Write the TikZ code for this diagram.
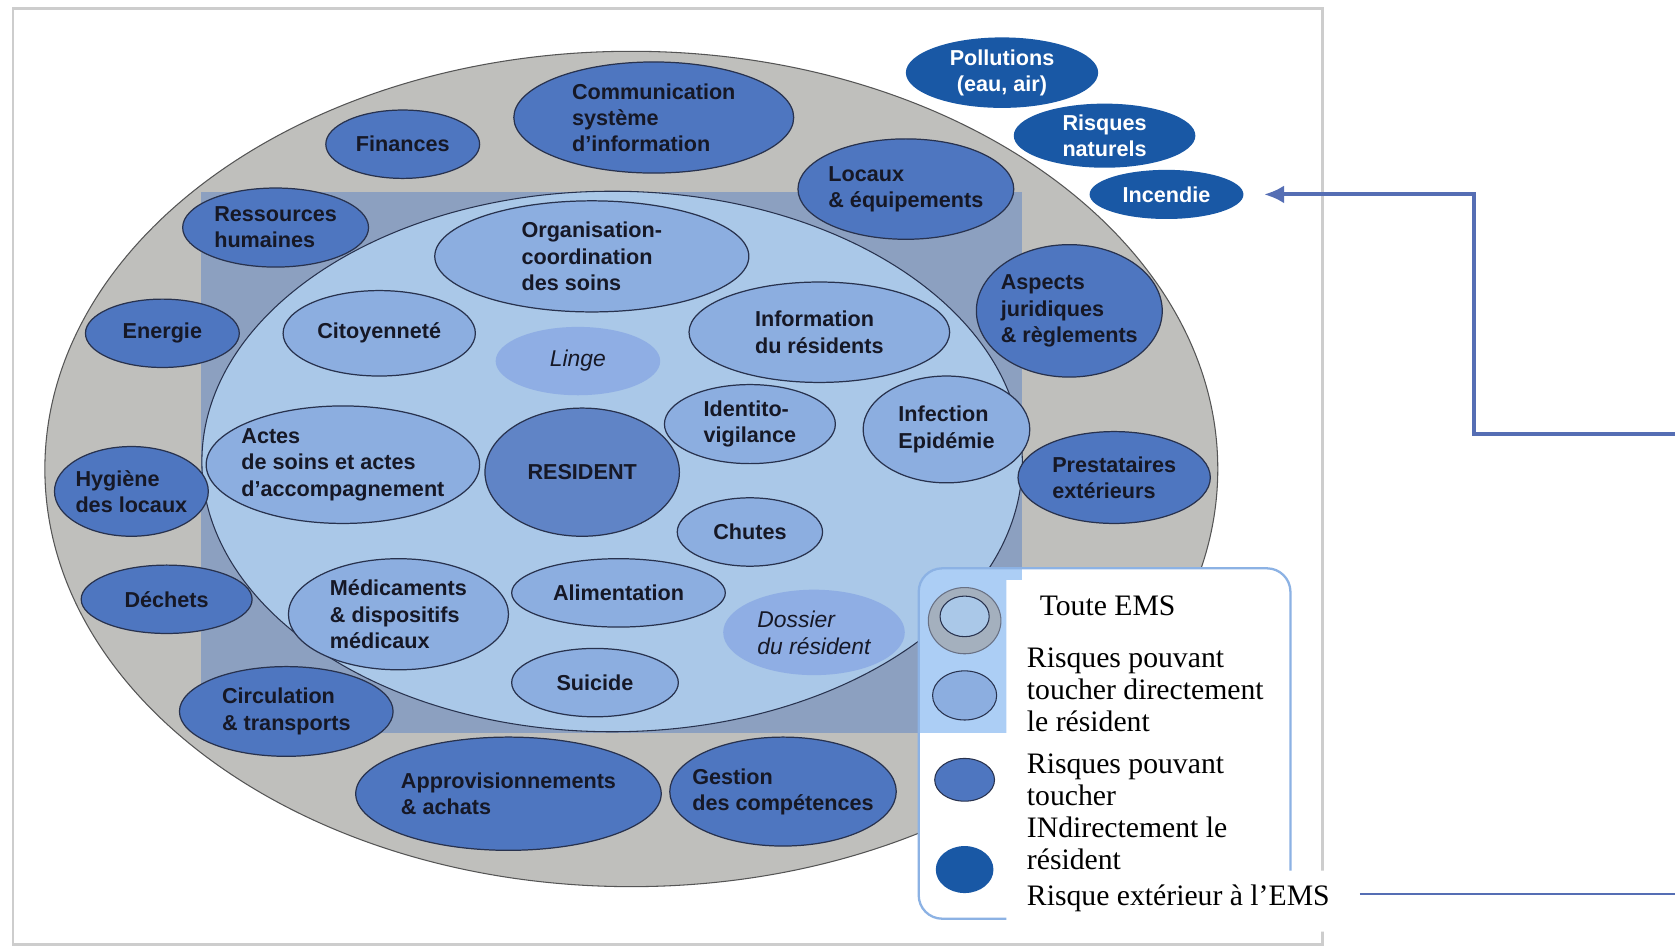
\documentclass[tikz,border=0pt]{standalone}
\usepackage{fontspec}
\setmainfont{Liberation Serif}
\setsansfont{Liberation Sans}
\usetikzlibrary{shapes.geometric,arrows.meta}

\definecolor{ringgray}{RGB}{191,191,188}
\definecolor{ringedge}{RGB}{85,85,85}
\definecolor{rectblue}{RGB}{140,160,192}
\definecolor{innerblue}{RGB}{170,200,232}
\definecolor{keyblue}{RGB}{172,206,245}
\definecolor{lightell}{RGB}{140,174,224}
\definecolor{softell}{RGB}{143,174,228}
\definecolor{midell}{RGB}{78,118,192}
\definecolor{darkell}{RGB}{25,88,165}
\definecolor{edgecol}{RGB}{40,50,78}
\definecolor{inktext}{RGB}{22,24,38}
\definecolor{keyframe}{RGB}{140,178,228}
\definecolor{framegray}{RGB}{205,205,205}
\definecolor{linkblue}{RGB}{85,110,180}

\newcommand{\pxu}{0.02136cm}

\begin{document}
\begin{tikzpicture}[x=\pxu,y=-\pxu]
  \tikzset{sz/.style 2 args={minimum width=2*#1*\pxu,minimum height=2*#2*\pxu}}
  \tikzstyle{zone}=[ellipse,inner sep=0pt,line width=0.6pt]
  \tikzstyle{risk}=[ellipse,draw=edgecol,line width=0.7pt,inner sep=-1cm,text=inktext,align=left,
    font=\sffamily\bfseries\fontsize{12.3}{14.9}\selectfont]
  \tikzstyle{inrisk}=[risk,fill=lightell]
  \tikzstyle{outrisk}=[risk,fill=midell]
  \tikzstyle{extrisk}=[risk,fill=darkell,draw=none,text=white,align=center]
  \tikzstyle{soft}=[risk,fill=softell,draw=none,font=\sffamily\itshape\fontsize{13}{15.4}\selectfont]
  \tikzstyle{keytext}=[anchor=west,inner sep=0pt,align=left,text=black,font=\fontsize{16.9}{18.2}\selectfont]
  \tikzstyle{link}=[draw=linkblue,line width=2.3pt]

  \fill[white] (0,0) rectangle (1568,885);
  \useasboundingbox (0,0) rectangle (1568,885);
  \draw[framegray,line width=1.4pt] (12,8) rectangle (1238,884);

  % EMS and resident zones
  \node[zone,sz={549}{391},fill=ringgray,draw=ringedge] (ems) at (591,439) {};
  \fill[rectblue] (188,180) rectangle (957,686);
  \node[zone,sz={384}{253},fill=innerblue,draw=edgecol] (proche) at (573,432) {};

  % legend box
  \fill[white,rounded corners=0.47cm] (860,532) rectangle (1208,860);
  \begin{scope}
    \clip[rounded corners=0.47cm] (860,532) rectangle (1208,860);
    \fill[keyblue] (860,532) rectangle (957,686);
  \end{scope}
  \draw[keyframe,line width=1.3pt,rounded corners=0.47cm] (860,532) rectangle (1208,860);

  % risks touching the resident
  \node[inrisk,sz={147}{52}] (organisation) at (554,240) {Organisation-\\coordination\\des soins};
  \node[inrisk,sz={90}{40}] (citoyennete) at (355,312) {Citoyenneté};
  \node[soft,sz={77}{32}] (linge) at (541,338) {Linge};
  \node[inrisk,sz={122}{47}] (information) at (767,311) {Information\\du résidents};
  \node[inrisk,sz={80}{37}] (identito) at (702,397) {Identito-\\vigilance};
  \node[inrisk,sz={78}{50}] (infection) at (886,402) {Infection\\Epidémie};
  \node[inrisk,sz={128}{55}] (actes) at (321,435) {Actes\\de soins et actes\\d’accompagnement};
  \node[outrisk,sz={91}{60},fill=midell!90!white] (resident) at (545,442) {RESIDENT};
  \node[inrisk,sz={68}{32}] (chutes) at (702,498) {Chutes};
  \node[inrisk,sz={100}{32}] (alimentation) at (579,555) {Alimentation};
  \node[inrisk,sz={103}{52}] (medicaments) at (373,575) {Médicaments\\\& dispositifs\\médicaux};
  \node[soft,sz={85}{40}] (dossier) at (762,592) {Dossier\\du résident};
  \node[inrisk,sz={78}{32}] (suicide) at (557,639) {Suicide};

  % risks touching the resident indirectly
  \node[outrisk,sz={72}{32}] (finances) at (377,135) {Finances};
  \node[outrisk,sz={131}{52}] (communication) at (612,110) {Communication\\système\\d’information};
  \node[outrisk,sz={101}{47}] (locaux) at (848,177) {Locaux\\\& équipements};
  \node[outrisk,sz={87}{37}] (rh) at (258,213) {Ressources\\humaines};
  \node[outrisk,sz={72}{32}] (energie) at (152,312) {Energie};
  \node[outrisk,sz={87}{62}] (juridique) at (1001,291) {Aspects\\juridiques\\\& règlements};
  \node[outrisk,sz={72}{42}] (hygiene) at (123,460) {Hygiène\\des locaux};
  \node[outrisk,sz={90}{43}] (prestataires) at (1043,447) {Prestataires\\extérieurs};
  \node[outrisk,sz={80}{32}] (dechets) at (156,561) {Déchets};
  \node[outrisk,sz={100}{42}] (circulation) at (268,666) {Circulation\\\& transports};
  \node[outrisk,sz={143}{53}] (appro) at (476,743) {Approvisionnements\\\& achats};
  \node[outrisk,sz={106}{51}] (gestion) at (733,741) {Gestion\\des compétences};

  % risks outside the EMS
  \node[extrisk,sz={90}{33}] (pollutions) at (938,68) {Pollutions\\(eau, air)};
  \node[extrisk,sz={85}{30}] (naturels) at (1034,127) {Risques\\naturels};
  \node[extrisk,sz={72}{23}] (incendie) at (1092,182) {Incendie};

  % legend
  \fill[white] (942,543) -- (1200,543) -- (1200,815) -- (1255,815) -- (1255,872) -- (942,872) -- cycle;
  \node[zone,sz={34}{31},fill=ringgray!80!edgecol!70!keyblue,draw=edgecol!70] (keyems) at (903,581) {};
  \node[zone,sz={23}{19},fill=innerblue,draw=edgecol] (keyemsin) at (903,577) {};
  \node[zone,sz={30}{23},fill=lightell,draw=edgecol] (keydir) at (903,651) {};
  \node[zone,sz={28}{20},fill=midell,draw=edgecol] (keyind) at (903,730) {};
  \node[zone,sz={27}{22},fill=darkell] (keyext) at (903,814) {};
  \node[keytext] (keyemstext) at (973,567) {Toute EMS};
  \node[keytext] (keydirtext) at (961,646) {Risques pouvant\\toucher directement\\le résident};
  \node[keytext] (keyindtext) at (961,760) {Risques pouvant\\toucher\\INdirectement le\\résident};
  \node[keytext] (keyexttext) at (961,841) {Risque extérieur à l’EMS};

  % pointers
  \coordinate (arrowin) at (1568,406);
  \coordinate (rulein) at (1273,837);
  \coordinate (ruleout) at (1568,837);
  \draw[link,-{Latex[length=0.4cm,width=0.36cm]},shorten >=0.4cm] (arrowin) -- ++(-188,0) |- (incendie.east);
  \draw[link,line width=1.3pt] (rulein) -- (ruleout);
\end{tikzpicture}
\end{document}
